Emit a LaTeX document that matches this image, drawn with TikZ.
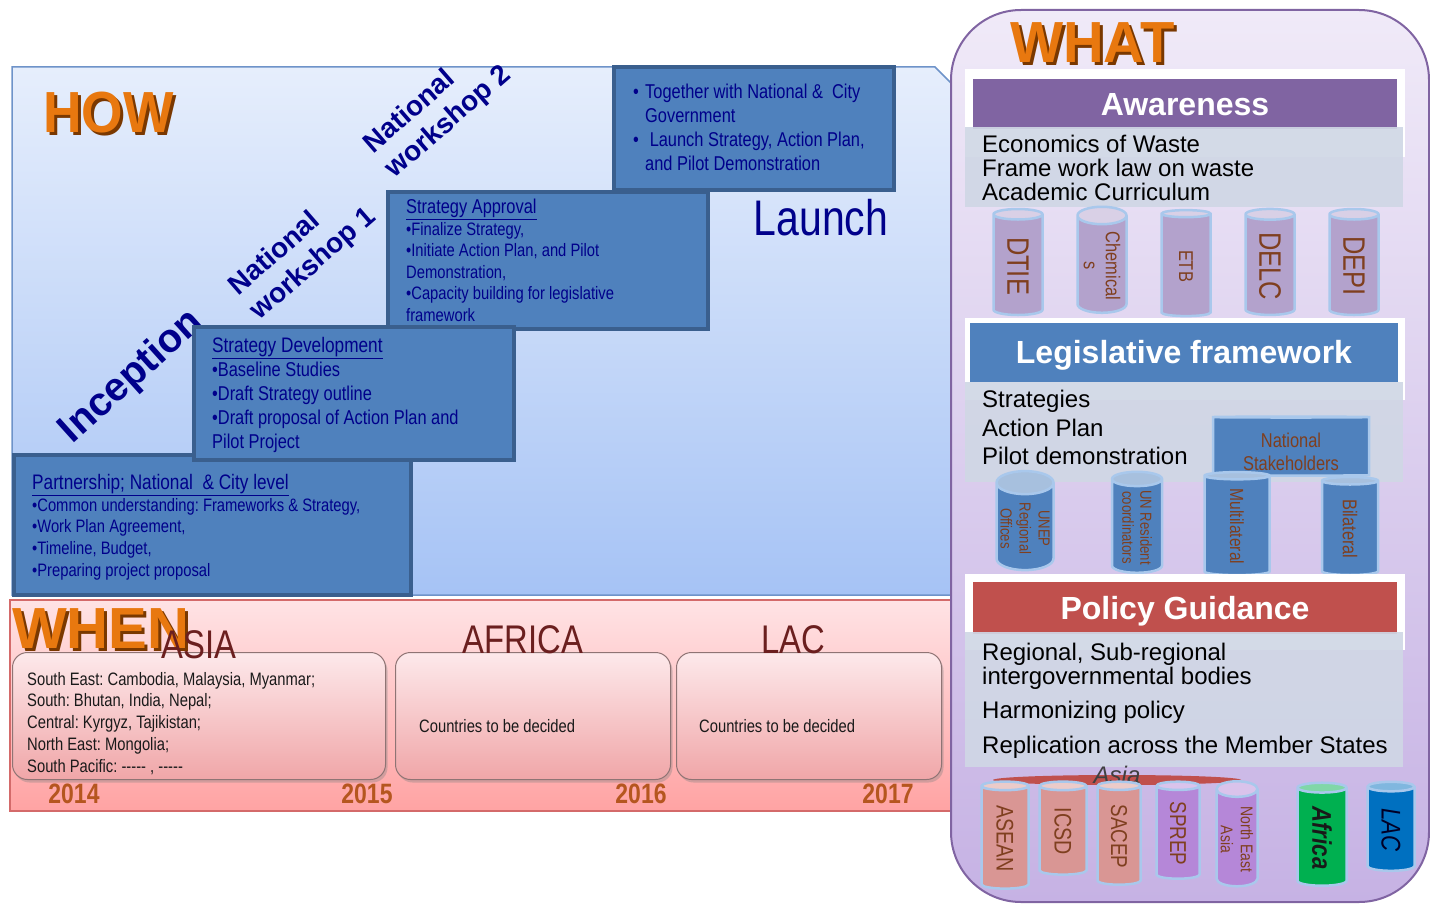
\documentclass[tikz,border=0pt]{standalone}
\usepackage{fontspec}
\setmainfont{Liberation Sans}
\newfontfamily\narrowfont[FakeStretch=0.82]{Liberation Sans}
\usetikzlibrary{shapes.geometric,shadows}

\newcommand\fsz[2]{\fontsize{#1}{#2}\selectfont}
\newcommand\blanks{\mbox{-}\mbox{-}\mbox{-}\mbox{-}\mbox{-}}
\frenchspacing

\definecolor{howtop}{HTML}{E6EEFC}
\definecolor{howbot}{HTML}{A6C3F5}
\definecolor{howedge}{HTML}{6E93C9}
\definecolor{stepblue}{HTML}{4F81BD}
\definecolor{stepedge}{HTML}{3A5F8E}
\definecolor{navytext}{HTML}{00008B}
\definecolor{titleorange}{HTML}{E8780F}
\definecolor{titleshade}{HTML}{7A3800}
\definecolor{whentop}{HTML}{FFE3E5}
\definecolor{whenbot}{HTML}{FFA3A3}
\definecolor{whenedge}{HTML}{D46A6A}
\definecolor{regiontop}{HTML}{FDE9EB}
\definecolor{regionbot}{HTML}{F0A6A8}
\definecolor{regionedge}{HTML}{8F7474}
\definecolor{regiontext}{HTML}{6B1F1F}
\definecolor{yeartext}{HTML}{B5561F}
\definecolor{darktext}{HTML}{1A1A1A}
\definecolor{whattop}{HTML}{F0EAF8}
\definecolor{whatbot}{HTML}{C6B2E4}
\definecolor{whatedge}{HTML}{8064A2}
\definecolor{awarehead}{HTML}{8064A2}
\definecolor{legishead}{HTML}{4F81BD}
\definecolor{policyhead}{HTML}{C0504D}
\definecolor{bandgray}{HTML}{D0D7E5}
\definecolor{pillartext}{HTML}{7F3F1F}
\definecolor{pillarrim}{HTML}{A9C8EC}
\definecolor{lilac}{HTML}{B3A2CC}
\definecolor{salmon}{HTML}{D99694}
\definecolor{orchid}{HTML}{B587D8}
\definecolor{africagreen}{HTML}{00B050}
\definecolor{lacblue}{HTML}{0070C0}

\tikzset{
  titleword/.style={font=\fsz{58}{58}\bfseries, inner sep=0pt, anchor=base west},
  stepbox/.style={draw=stepedge, line width=4, fill=stepblue, anchor=north west, inner sep=0pt},
  steptext/.style={anchor=north west, align=left, inner sep=0pt, text=navytext},
  phaselabel/.style={text=navytext, align=left, inner sep=0pt},
  regionbox/.style={draw=regionedge, line width=1, rounded corners=15, top color=regiontop,
    bottom color=regionbot, anchor=north west,
    drop shadow={shadow xshift=2pt, shadow yshift=-3pt, opacity=0.35}},
  regionlabel/.style={font=\narrowfont\fsz{40}{40}, text=regiontext, anchor=base, inner sep=0pt},
  yearlabel/.style={font=\narrowfont\fsz{28}{28}\bfseries, text=yeartext, anchor=base, inner sep=0pt},
  headbar/.style={fill=#1, text=white, font=\fsz{32}{32}\bfseries, text height=23pt,
    text depth=0pt, inner sep=0pt},
  bandtext/.style={anchor=north west, align=left, inner sep=0pt, font=\fsz{24}{24}},
  pillar/.style={cylinder, shape border rotate=180, rotate=-90, aspect=0.45, draw=pillarrim,
    line width=2.5, cylinder uses custom fill, cylinder body fill=#1,
    cylinder end fill=#1!50!white, inner sep=1pt, align=center, text=pillartext, font=\narrowfont},
  pillar/.default=lilac
}

\begin{document}
\begin{tikzpicture}[x=1pt,y=-1pt]
    \useasboundingbox (0,0) rectangle (1430,904);

    % HOW panel
    \draw[howedge, line width=1.5, top color=howtop, bottom color=howbot]
        (12,67) -- (935,67) -- (952,84) -- (952,595) -- (12,595) -- cycle;
    \node[titleword, text=titleshade, xscale=0.92] at (46,136) {HOW};
    \node[titleword, text=titleorange, xscale=0.92] (how) at (43,133) {HOW};

    % Phase names along the steps
    \node[phaselabel, font=\fsz{40}{40}\bfseries, rotate=42] (inception) at (132,377) {Inception};
    \node[phaselabel, font=\fsz{28}{33}\bfseries, rotate=41] (nwone) at (303,252) {National\\workshop 1};
    \node[phaselabel, font=\fsz{28}{33}\bfseries, rotate=41] (nwtwo) at (438,110) {National\\workshop 2};

    % Steps
    \node[stepbox, minimum width=397, minimum height=140] (partner) at (12,453) {};
    \node[stepbox, minimum width=320, minimum height=137] (approve) at (386,190) {};
    \node[stepbox, minimum width=320, minimum height=133] (develop) at (192,325) {};
    \node[stepbox, minimum width=280, minimum height=123] (launch) at (612,65) {};

    \node[steptext, font=\narrowfont\fsz{18}{21.7}] (partnertext) at (32,474)
        {{\fsz{21}{23}\underline{Partnership; National\ \ \& City level}}\\
         \textbullet Common understanding: Frameworks \& Strategy,\\
         \textbullet Work Plan Agreement,\\
         \textbullet Timeline, Budget,\\
         \textbullet Preparing project proposal};
    \node[steptext, font=\narrowfont\fsz{20}{24}] (developtext) at (212,337)
        {{\fsz{21}{24}\underline{Strategy Development}}\\
         \textbullet Baseline Studies\\
         \textbullet Draft Strategy outline\\
         \textbullet Draft proposal of Action Plan and\\
         Pilot Project};
    \node[steptext, font=\narrowfont\fsz{18}{21.5}] (approvetext) at (406,199)
        {{\fsz{20}{21.5}\underline{Strategy Approval}}\\
         \textbullet Finalize Strategy,\\
         \textbullet Initiate Action Plan, and Pilot\\
         Demonstration,\\
         \textbullet Capacity building for legislative\\
         framework};
    \node[steptext, font=\narrowfont\fsz{20}{24}] (launchtext) at (633,84)
        {\makebox[12pt][l]{\textbullet}Together with National \&\ \ City\\
         \hspace*{12pt}Government\\
         \makebox[12pt][l]{\textbullet}\ Launch Strategy, Action Plan,\\
         \hspace*{12pt}and Pilot Demonstration};
    \node[text=navytext, font=\narrowfont\fsz{50}{50}, anchor=base, inner sep=0pt] (launchword)
        at (821,236) {Launch};

    % WHEN panel
    \draw[whenedge, line width=1.5, top color=whentop, bottom color=whenbot] (10,600) rectangle (952,811);
    \node[regionbox, minimum width=373, minimum height=127] (asiabox) at (12,652) {};
    \node[regionbox, minimum width=275, minimum height=127] (africabox) at (395,652) {};
    \node[regionbox, minimum width=265, minimum height=127] (lacbox) at (676,652) {};
    \node[titleword, text=titleshade] at (15,651) {WHEN};
    \node[titleword, text=titleorange] (when) at (12,648) {WHEN};

    \node[regionlabel] (asia) at (199,658) {ASIA};
    \node[regionlabel] (africa) at (523,653) {AFRICA};
    \node[regionlabel] (lac) at (793,653) {LAC};

    \node[anchor=north west, align=left, inner sep=0pt, text=darktext,
          font=\narrowfont\fsz{18}{21.7}] (asialist) at (27,672)
        {South East: Cambodia, Malaysia, Myanmar;\\
         South: Bhutan, India, Nepal;\\
         Central: Kyrgyz, Tajikistan;\\
         North East: Mongolia;\\
         South Pacific: \blanks\ , \blanks};
    \node[anchor=west, inner sep=0pt, text=darktext, font=\narrowfont\fsz{18}{18}] (africalist)
        at (419,726) {Countries to be decided};
    \node[anchor=west, inner sep=0pt, text=darktext, font=\narrowfont\fsz{18}{18}] (laclist)
        at (699,726) {Countries to be decided};

    \foreach \yx/\yr in {74/2014, 367/2015, 641/2016, 888/2017}
        \node[yearlabel] (y\yr) at (\yx,803) {\yr};

    % WHAT panel
    \draw[whatedge, line width=2, top color=whattop, bottom color=whatbot, rounded corners=70]
        (951,10) rectangle (1429,902);
    \node[titleword, text=titleshade, xscale=0.97] at (1013,66) {WHAT};
    \node[titleword, text=titleorange, xscale=0.97] (what) at (1010,63) {WHAT};

    % Awareness
    \fill[white] (965,69) rectangle (1405,157);
    \node[headbar=awarehead, minimum width=424, minimum height=50] (aware) at (1185,104) {Awareness};
    \fill[bandgray, opacity=0.92] (965,127) rectangle (1403,207);
    \node[bandtext] (awarelist) at (982,135)
        {Economics of Waste\\Frame work law on waste\\Academic Curriculum};

    \foreach \cx/\nm/\txt/\sz in {1018/dtie/DTIE/31, 1102/chem/{Chemical\\s}/20,
                                  1186/etb/ETB/20, 1270/delc/DELC/31, 1354/depi/DEPI/31}
        \node[pillar=lilac, minimum height=106, minimum width=49, font=\narrowfont\fsz{\sz}{22}]
            (\nm) at (\cx,266) {\txt};

    % Legislative framework
    \fill[white] (965,318) rectangle (1405,400);
    \node[headbar=legishead, minimum width=428, minimum height=59] (legis) at (1184,352) {Legislative framework};
    \fill[bandgray, opacity=0.92] (965,382) rectangle (1403,482);
    \node[bandtext, font=\fsz{24}{28.5}] (legislist) at (982,390)
        {Strategies\\Action Plan\\Pilot demonstration};

    \node[pillar=stepblue, minimum height=59, minimum width=156] (stake) at (1291,447) {};
    \node[align=center, inner sep=0pt, text=pillartext, font=\narrowfont\fsz{20}{23}] (staketext)
        at (1291,452) {National\\Stakeholders};

    \foreach \cx/\ct/\nm/\w/\txt/\sz/\sk in {1025/479/unep/57/{UNEP\\Regional\\Offices}/16/19,
            1137/477/unrc/50/{UN Resident\\coordinators}/16/18,
            1237/475/multi/65/Multilateral/19/20, 1350/480/bilat/56/Bilateral/20/20}
        \node[pillar=stepblue, minimum height=578-\ct, minimum width=\w, font=\narrowfont\fsz{\sz}{\sk}]
            (\nm) at (\cx,{(\ct+578)/2}) {\txt};

    % Policy guidance
    \fill[white] (965,574) rectangle (1405,650);
    \node[headbar=policyhead, minimum width=424, minimum height=52] (policy) at (1185,608) {Policy Guidance};
    \fill[bandgray, opacity=0.92] (965,632) rectangle (1403,767);
    \node[bandtext] (policylist) at (982,643)
        {Regional, Sub-regional\\intergovernmental bodies\\[10pt]Harmonizing policy\\[11pt]Replication across the Member States};

    % Regional bodies
    \fill[policyhead] (1117,780) ellipse [x radius=124, y radius=5];
    \node[anchor=base, inner sep=0pt, font=\fsz{24}{24}\itshape, text=black!75] (asiagroup) at (1117,783) {Asia};

    \foreach \cx/\ct/\cb/\w/\col/\nm/\txt/\sz in {1005/785/892/47/salmon/asean/ASEAN/24,
            1063/785/878/47/salmon/icsd/ICSD/24, 1119/785/888/43/salmon/sacep/SACEP/23,
            1178/785/882/43/orchid/sprep/SPREP/23, 1237/787/892/41/orchid/nea/{North East\\Asia}/17}
        \node[pillar=\col, minimum height=\cb-\ct, minimum width=\w, font=\narrowfont\fsz{\sz}{20}]
            (\nm) at (\cx,{(\ct+\cb)/2}) {\txt};
    \node[pillar=africagreen, minimum height=103, minimum width=49, text=black!90,
          font=\narrowfont\fsz{27}{27}\bfseries\itshape] (africabody) at (1322,838) {Africa};
    \node[pillar=lacblue, minimum height=89, minimum width=47, text=black!85!blue,
          font=\narrowfont\fsz{27}{27}\itshape] (lacbody) at (1391,830) {LAC};
\end{tikzpicture}
\end{document}
